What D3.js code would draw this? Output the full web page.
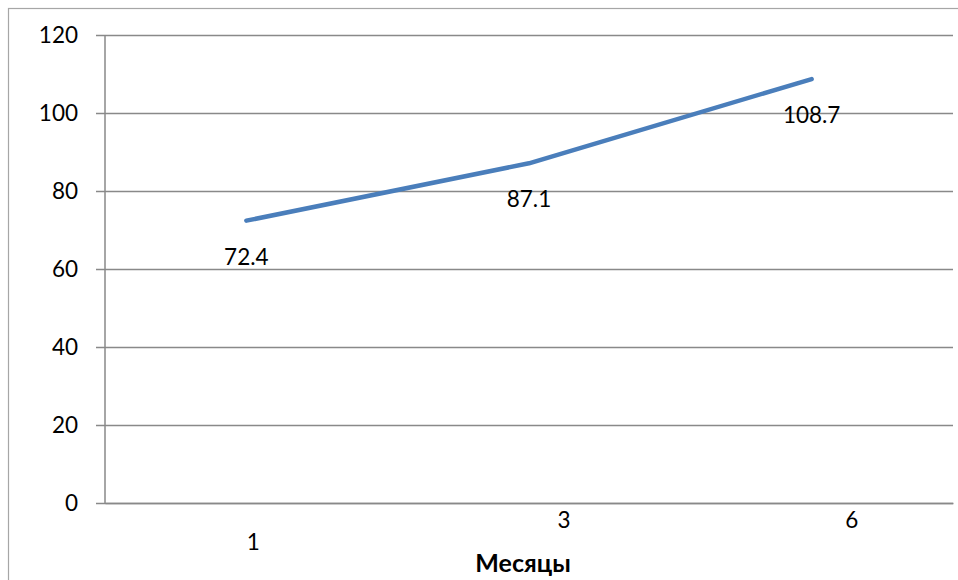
<!DOCTYPE html>
<html><head><meta charset="utf-8">
<script src="https://cdn.jsdelivr.net/npm/d3@7/dist/d3.min.js"></script>
<style>body{margin:0;background:#fff}svg{display:block}</style>
</head><body>
<svg id="c" width="958" height="580"></svg>
<script>
const categories = ["1", "3", "6"];
const values = [72.4, 87.1, 108.7];
const yTicks = [0, 20, 40, 60, 80, 100, 120];
const xTitle = "Месяцы";

const svg = d3.select("#c");
const font = "Lato, 'Open Sans', sans-serif";
const m = {left: 105, right: 953, top: 35, bottom: 503};

// outer frame
svg.append("rect").attr("x", 8.5).attr("y", 8.5).attr("width", 1000).attr("height", 1000)
  .attr("fill", "none").attr("stroke", "#a6a6a6").attr("stroke-width", 1.2);

const x = d3.scaleBand().domain(categories).range([m.left, m.right]);
const y = d3.scaleLinear().domain([0, 120]).range([m.bottom, m.top]);

// gridlines + y ticks
const yAxis = d3.axisLeft(y).tickValues(yTicks).tickSize(-(m.right - m.left)).tickPadding(27);
const gy = svg.append("g").attr("transform", `translate(${m.left},0)`).call(yAxis);
gy.select(".domain").remove();
gy.selectAll(".tick line").attr("x1", -9).attr("stroke", "#898989").attr("stroke-width", 1.5);
gy.selectAll(".tick text").attr("font-family", font).attr("font-size", 22.5).attr("fill", "#000");

// y axis line
svg.append("line").attr("x1", m.left).attr("x2", m.left).attr("y1", y(120)).attr("y2", y(0))
  .attr("stroke", "#898989").attr("stroke-width", 1.5);

// x axis labels (nudged as in the reference)
const nudge = [[7, 47], [35, 25], [40, 25]];
const xAxis = d3.axisBottom(x).tickSize(0).tickPadding(0);
const gx = svg.append("g").attr("transform", `translate(0,${m.bottom})`).call(xAxis);
gx.select(".domain").attr("stroke", "#898989").attr("stroke-width", 1.5);
gx.selectAll(".tick text").attr("font-family", font).attr("font-size", 22.5).attr("fill", "#000")
  .attr("dy", null)
  .attr("transform", (d, i) => `translate(${nudge[i][0]},${nudge[i][1]})`);

// x title
svg.append("text").attr("x", 523).attr("y", 572).attr("text-anchor", "middle")
  .attr("font-family", font).attr("font-size", 25).attr("font-weight", "bold").text(xTitle);

// line
const cx = d => x(d) + x.bandwidth() / 2;
const data = categories.map((c, i) => ({c, v: values[i]}));
svg.append("path").datum(data)
  .attr("d", d3.line().x(d => cx(d.c)).y(d => y(d.v)))
  .attr("fill", "none").attr("stroke", "#4a7ebb").attr("stroke-width", 4.5)
  .attr("stroke-linecap", "round").attr("stroke-linejoin", "round");

// data labels
svg.selectAll(".lbl").data(data).join("text").attr("class", "lbl")
  .attr("x", d => cx(d.c)).attr("y", d => y(d.v) + 44)
  .attr("text-anchor", "middle").attr("font-family", font).attr("font-size", 22.5)
  .text(d => d.v);
</script>
</body></html>
